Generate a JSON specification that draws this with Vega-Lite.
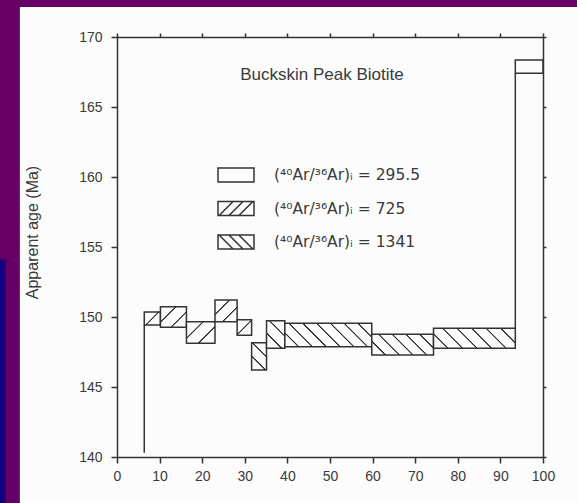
{
  "$schema": "https://vega.github.io/schema/vega-lite/v6.json",
  "width": 426,
  "height": 420,
  "autosize": {"type": "none"},
  "padding": {"left": 117, "top": 37, "right": 34, "bottom": 46},
  "background": "#660066",
  "config": {"view": {"stroke": null}, "font": "Liberation Sans"},
  "datasets": {
    "steps": [
      {"step": 1, "start": 6.4, "end": 10.2, "low": 149.43, "high": 150.36, "ratio": "(⁴⁰Ar/³⁶Ar)ᵢ = 725"},
      {"step": 2, "start": 10.2, "end": 16.3, "low": 149.26, "high": 150.74, "ratio": "(⁴⁰Ar/³⁶Ar)ᵢ = 725"},
      {"step": 3, "start": 16.3, "end": 23.0, "low": 148.12, "high": 149.66, "ratio": "(⁴⁰Ar/³⁶Ar)ᵢ = 725"},
      {"step": 4, "start": 23.0, "end": 28.2, "low": 149.66, "high": 151.21, "ratio": "(⁴⁰Ar/³⁶Ar)ᵢ = 725"},
      {"step": 5, "start": 28.2, "end": 31.6, "low": 148.7, "high": 149.8, "ratio": "(⁴⁰Ar/³⁶Ar)ᵢ = 725"},
      {"step": 6, "start": 31.6, "end": 35.1, "low": 146.21, "high": 148.16, "ratio": "(⁴⁰Ar/³⁶Ar)ᵢ = 1341"},
      {"step": 7, "start": 35.1, "end": 39.4, "low": 147.76, "high": 149.73, "ratio": "(⁴⁰Ar/³⁶Ar)ᵢ = 1341"},
      {"step": 8, "start": 39.4, "end": 59.8, "low": 147.88, "high": 149.55, "ratio": "(⁴⁰Ar/³⁶Ar)ᵢ = 1341"},
      {"step": 9, "start": 59.8, "end": 74.3, "low": 147.29, "high": 148.76, "ratio": "(⁴⁰Ar/³⁶Ar)ᵢ = 1341"},
      {"step": 10, "start": 74.3, "end": 93.5, "low": 147.76, "high": 149.19, "ratio": "(⁴⁰Ar/³⁶Ar)ᵢ = 1341"},
      {"step": 11, "start": 93.5, "end": 100, "low": 167.41, "high": 168.36, "ratio": "(⁴⁰Ar/³⁶Ar)ᵢ = 295.5"}
    ],
    "joins": [
      {"x": 6.4, "from": 140.3, "to": 149.43},
      {"x": 93.5, "from": 149.19, "to": 167.41}
    ]
  },
  "layer": [
    {
      "data": {"values": [{}]},
      "mark": {"type": "rect", "fill": "#fcfcfc", "clip": false},
      "encoding": {
        "x": {"datum": -22.8, "type": "quantitative", "scale": {"domain": [0, 100], "nice": false, "zero": false}, "axis": null},
        "x2": {"datum": 112},
        "y": {"datum": 172.14, "type": "quantitative", "scale": {"domain": [140, 170], "nice": false, "zero": false}, "axis": null},
        "y2": {"datum": 130}
      }
    },
    {
      "data": {"values": [{}]},
      "mark": {"type": "rect", "fill": "#14007f", "clip": false},
      "encoding": {
        "x": {"datum": -27.5, "type": "quantitative", "scale": {"domain": [0, 100], "nice": false, "zero": false}, "axis": null},
        "x2": {"datum": -26.1},
        "y": {"datum": 154.1, "type": "quantitative", "scale": {"domain": [140, 170], "nice": false, "zero": false}, "axis": null},
        "y2": {"datum": 130}
      }
    },
    {
      "data": {"name": "steps"},
      "encoding": {
        "x": {"field": "start", "type": "quantitative", "scale": {"domain": [0, 100], "nice": false, "zero": false},
          "axis": {"orient": "bottom", "values": [0, 10, 20, 30, 40, 50, 60, 70, 80, 90, 100], "title": null, "grid": false,
            "tickSize": 6, "labelPadding": 6, "labelFlush": false, "labelFontSize": 14, "labelFont": "Liberation Sans", "labelColor": "#3a3a3a",
            "domainColor": "#333", "domainWidth": 1.5, "tickColor": "#333", "tickWidth": 1.5, "zindex": 1}},
        "x2": {"field": "end"},
        "y": {"field": "high", "type": "quantitative", "scale": {"domain": [140, 170], "nice": false, "zero": false},
          "axis": {"orient": "left", "values": [140, 145, 150, 155, 160, 165, 170], "title": "Apparent age (Ma)", "grid": false,
            "tickSize": 6, "labelPadding": 9, "labelFlush": false, "labelFontSize": 14, "labelFont": "Liberation Sans", "labelColor": "#3a3a3a",
            "titleFont": "Liberation Sans", "titleFontSize": 16, "titleFontWeight": "normal", "titleColor": "#3a3a3a",
            "titlePadding": 38, "titleY": 195,
            "domainColor": "#333", "domainWidth": 1.5, "tickColor": "#333", "tickWidth": 1.5, "zindex": 1}},
        "y2": {"field": "low"}
      },
      "layer": [
        {"transform": [{"filter": "datum.step == 1"}],
          "mark": {"type": "rect", "stroke": "#333", "strokeWidth": 1.5, "fill": {"gradient": "linear", "x1": 0, "y1": 0, "x2": 1.0964, "y2": 0.8798,
            "stops": [{"offset": 0, "color": "#fcfcfc"}, {"offset": 0.459, "color": "#fcfcfc"}, {"offset": 0.484, "color": "#2e2e2e"}, {"offset": 0.516, "color": "#2e2e2e"}, {"offset": 0.541, "color": "#fcfcfc"}, {"offset": 1, "color": "#fcfcfc"}]}}},
        {"transform": [{"filter": "datum.step == 2"}],
          "mark": {"type": "rect", "stroke": "#333", "strokeWidth": 1.5, "fill": {"gradient": "linear", "x1": 0, "y1": 0, "x2": 1.0993, "y2": 0.8752,
            "stops": [{"offset": 0, "color": "#fcfcfc"}, {"offset": 0.3076, "color": "#fcfcfc"}, {"offset": 0.323, "color": "#2e2e2e"}, {"offset": 0.3436, "color": "#2e2e2e"}, {"offset": 0.359, "color": "#fcfcfc"},
              {"offset": 0.641, "color": "#fcfcfc"}, {"offset": 0.6564, "color": "#2e2e2e"}, {"offset": 0.677, "color": "#2e2e2e"}, {"offset": 0.6924, "color": "#fcfcfc"}, {"offset": 1, "color": "#fcfcfc"}]}}},
        {"transform": [{"filter": "datum.step == 3"}],
          "mark": {"type": "rect", "stroke": "#333", "strokeWidth": 1.5, "fill": {"gradient": "linear", "x1": 0, "y1": 0, "x2": 1.1165, "y2": 0.8462,
            "stops": [{"offset": 0, "color": "#fcfcfc"}, {"offset": 0.3093, "color": "#fcfcfc"}, {"offset": 0.3237, "color": "#2e2e2e"}, {"offset": 0.3429, "color": "#2e2e2e"}, {"offset": 0.3573, "color": "#fcfcfc"},
              {"offset": 0.6427, "color": "#fcfcfc"}, {"offset": 0.6571, "color": "#2e2e2e"}, {"offset": 0.6763, "color": "#2e2e2e"}, {"offset": 0.6907, "color": "#fcfcfc"}, {"offset": 1, "color": "#fcfcfc"}]}}},
        {"transform": [{"filter": "datum.step == 4"}],
          "mark": {"type": "rect", "stroke": "#333", "strokeWidth": 1.5, "fill": {"gradient": "linear", "x1": 0, "y1": 0, "x2": 1.0113, "y2": 0.9885,
            "stops": [{"offset": 0, "color": "#fcfcfc"}, {"offset": 0.306, "color": "#fcfcfc"}, {"offset": 0.3224, "color": "#2e2e2e"}, {"offset": 0.3442, "color": "#2e2e2e"}, {"offset": 0.3606, "color": "#fcfcfc"},
              {"offset": 0.6394, "color": "#fcfcfc"}, {"offset": 0.6558, "color": "#2e2e2e"}, {"offset": 0.6776, "color": "#2e2e2e"}, {"offset": 0.694, "color": "#fcfcfc"}, {"offset": 1, "color": "#fcfcfc"}]}}},
        {"transform": [{"filter": "datum.step == 5"}],
          "mark": {"type": "rect", "stroke": "#333", "strokeWidth": 1.5, "fill": {"gradient": "linear", "x1": 0, "y1": 0, "x2": 0.969, "y2": 1.0292,
            "stops": [{"offset": 0, "color": "#fcfcfc"}, {"offset": 0.4599, "color": "#fcfcfc"}, {"offset": 0.484, "color": "#2e2e2e"}, {"offset": 0.516, "color": "#2e2e2e"}, {"offset": 0.5401, "color": "#fcfcfc"}, {"offset": 1, "color": "#fcfcfc"}]}}},
        {"transform": [{"filter": "datum.step == 6"}],
          "mark": {"type": "rect", "stroke": "#333", "strokeWidth": 1.5, "fill": {"gradient": "linear", "x1": 0, "y1": 1, "x2": 0.65, "y2": -0.191,
            "stops": [{"offset": 0, "color": "#fcfcfc"}, {"offset": 0.3049, "color": "#fcfcfc"}, {"offset": 0.3219, "color": "#2e2e2e"}, {"offset": 0.3447, "color": "#2e2e2e"}, {"offset": 0.3617, "color": "#fcfcfc"},
              {"offset": 0.6383, "color": "#fcfcfc"}, {"offset": 0.6553, "color": "#2e2e2e"}, {"offset": 0.6781, "color": "#2e2e2e"}, {"offset": 0.6951, "color": "#fcfcfc"}, {"offset": 1, "color": "#fcfcfc"}]}}},
        {"transform": [{"filter": "datum.step == 7"}],
          "mark": {"type": "rect", "stroke": "#333", "strokeWidth": 1.5, "fill": {"gradient": "linear", "x1": 0, "y1": 1, "x2": 0.7659, "y2": -0.1551,
            "stops": [{"offset": 0, "color": "#fcfcfc"}, {"offset": 0.3072, "color": "#fcfcfc"}, {"offset": 0.3228, "color": "#2e2e2e"}, {"offset": 0.3438, "color": "#2e2e2e"}, {"offset": 0.3594, "color": "#fcfcfc"},
              {"offset": 0.6406, "color": "#fcfcfc"}, {"offset": 0.6562, "color": "#2e2e2e"}, {"offset": 0.6772, "color": "#2e2e2e"}, {"offset": 0.6928, "color": "#fcfcfc"}, {"offset": 1, "color": "#fcfcfc"}]}}},
        {"transform": [{"filter": "datum.step == 8"}],
          "mark": {"type": "rect", "stroke": "#333", "strokeWidth": 1.5, "fill": {"gradient": "linear", "x1": 0, "y1": 1, "x2": 1.1835, "y2": 0.6813,
            "stops": [{"offset": 0, "color": "#fcfcfc"},
              {"offset": 0.1141, "color": "#fcfcfc"}, {"offset": 0.1206, "color": "#2e2e2e"}, {"offset": 0.1294, "color": "#2e2e2e"}, {"offset": 0.1359, "color": "#fcfcfc"},
              {"offset": 0.2391, "color": "#fcfcfc"}, {"offset": 0.2456, "color": "#2e2e2e"}, {"offset": 0.2544, "color": "#2e2e2e"}, {"offset": 0.2609, "color": "#fcfcfc"},
              {"offset": 0.3641, "color": "#fcfcfc"}, {"offset": 0.3706, "color": "#2e2e2e"}, {"offset": 0.3794, "color": "#2e2e2e"}, {"offset": 0.3859, "color": "#fcfcfc"},
              {"offset": 0.4891, "color": "#fcfcfc"}, {"offset": 0.4956, "color": "#2e2e2e"}, {"offset": 0.5044, "color": "#2e2e2e"}, {"offset": 0.5109, "color": "#fcfcfc"},
              {"offset": 0.6141, "color": "#fcfcfc"}, {"offset": 0.6206, "color": "#2e2e2e"}, {"offset": 0.6294, "color": "#2e2e2e"}, {"offset": 0.6359, "color": "#fcfcfc"},
              {"offset": 0.7391, "color": "#fcfcfc"}, {"offset": 0.7456, "color": "#2e2e2e"}, {"offset": 0.7544, "color": "#2e2e2e"}, {"offset": 0.7609, "color": "#fcfcfc"},
              {"offset": 0.8641, "color": "#fcfcfc"}, {"offset": 0.8706, "color": "#2e2e2e"}, {"offset": 0.8794, "color": "#2e2e2e"}, {"offset": 0.8859, "color": "#fcfcfc"},
              {"offset": 1, "color": "#fcfcfc"}]}}},
        {"transform": [{"filter": "datum.step == 9"}],
          "mark": {"type": "rect", "stroke": "#333", "strokeWidth": 1.5, "fill": {"gradient": "linear", "x1": 0, "y1": 1, "x2": 1.2, "y2": 0.6,
            "stops": [{"offset": 0, "color": "#fcfcfc"},
              {"offset": 0.1521, "color": "#fcfcfc"}, {"offset": 0.1609, "color": "#2e2e2e"}, {"offset": 0.1725, "color": "#2e2e2e"}, {"offset": 0.1813, "color": "#fcfcfc"},
              {"offset": 0.3187, "color": "#fcfcfc"}, {"offset": 0.3275, "color": "#2e2e2e"}, {"offset": 0.3391, "color": "#2e2e2e"}, {"offset": 0.3479, "color": "#fcfcfc"},
              {"offset": 0.4854, "color": "#fcfcfc"}, {"offset": 0.4942, "color": "#2e2e2e"}, {"offset": 0.5058, "color": "#2e2e2e"}, {"offset": 0.5146, "color": "#fcfcfc"},
              {"offset": 0.6521, "color": "#fcfcfc"}, {"offset": 0.6609, "color": "#2e2e2e"}, {"offset": 0.6725, "color": "#2e2e2e"}, {"offset": 0.6813, "color": "#fcfcfc"},
              {"offset": 0.8187, "color": "#fcfcfc"}, {"offset": 0.8275, "color": "#2e2e2e"}, {"offset": 0.8391, "color": "#2e2e2e"}, {"offset": 0.8479, "color": "#fcfcfc"},
              {"offset": 1, "color": "#fcfcfc"}]}}},
        {"transform": [{"filter": "datum.step == 10"}],
          "mark": {"type": "rect", "stroke": "#333", "strokeWidth": 1.5, "fill": {"gradient": "linear", "x1": 0, "y1": 1, "x2": 1.1743, "y2": 0.7129,
            "stops": [{"offset": 0, "color": "#fcfcfc"},
              {"offset": 0.1311, "color": "#fcfcfc"}, {"offset": 0.1382, "color": "#2e2e2e"}, {"offset": 0.1476, "color": "#2e2e2e"}, {"offset": 0.1547, "color": "#fcfcfc"},
              {"offset": 0.2739, "color": "#fcfcfc"}, {"offset": 0.281, "color": "#2e2e2e"}, {"offset": 0.2904, "color": "#2e2e2e"}, {"offset": 0.2975, "color": "#fcfcfc"},
              {"offset": 0.4168, "color": "#fcfcfc"}, {"offset": 0.4239, "color": "#2e2e2e"}, {"offset": 0.4333, "color": "#2e2e2e"}, {"offset": 0.4404, "color": "#fcfcfc"},
              {"offset": 0.5596, "color": "#fcfcfc"}, {"offset": 0.5667, "color": "#2e2e2e"}, {"offset": 0.5761, "color": "#2e2e2e"}, {"offset": 0.5832, "color": "#fcfcfc"},
              {"offset": 0.7025, "color": "#fcfcfc"}, {"offset": 0.7096, "color": "#2e2e2e"}, {"offset": 0.719, "color": "#2e2e2e"}, {"offset": 0.7261, "color": "#fcfcfc"},
              {"offset": 0.8453, "color": "#fcfcfc"}, {"offset": 0.8524, "color": "#2e2e2e"}, {"offset": 0.8618, "color": "#2e2e2e"}, {"offset": 0.8689, "color": "#fcfcfc"},
              {"offset": 1, "color": "#fcfcfc"}]}}},
        {"transform": [{"filter": "datum.step == 11"}],
          "mark": {"type": "rect", "stroke": "#333", "strokeWidth": 1.5, "fill": "#fcfcfc"}}
      ]
    },
    {
      "data": {"name": "joins"},
      "mark": {"type": "rule", "stroke": "#333", "strokeWidth": 1.5},
      "encoding": {
        "x": {"field": "x", "type": "quantitative", "scale": {"domain": [0, 100], "nice": false, "zero": false},
          "axis": {"orient": "top", "values": [0, 10, 20, 30, 40, 50, 60, 70, 80, 90, 100], "labels": false, "title": null, "grid": false,
            "tickSize": 4, "domainColor": "#333", "domainWidth": 1.5, "tickColor": "#333", "tickWidth": 1.5, "zindex": 1}},
        "y": {"field": "from", "type": "quantitative", "scale": {"domain": [140, 170], "nice": false, "zero": false},
          "axis": {"orient": "right", "values": [140, 145, 150, 155, 160, 165, 170], "labels": false, "title": null, "grid": false,
            "tickSize": 3, "domainColor": "#333", "domainWidth": 1.5, "tickColor": "#333", "tickWidth": 1.5, "zindex": 1}},
        "y2": {"field": "to"}
      }
    },
    {
      "data": {"name": "steps"},
      "mark": {"type": "point", "filled": false, "color": "#333", "strokeWidth": 1.5, "size": 1296, "opacity": 1, "clip": true},
      "encoding": {
        "x": {"datum": -40, "type": "quantitative", "scale": {"domain": [0, 100], "nice": false, "zero": false}, "axis": null},
        "y": {"datum": 120, "type": "quantitative", "scale": {"domain": [140, 170], "nice": false, "zero": false}, "axis": null},
        "shape": {"field": "ratio", "type": "nominal",
          "scale": {"domain": ["(⁴⁰Ar/³⁶Ar)ᵢ = 295.5", "(⁴⁰Ar/³⁶Ar)ᵢ = 725", "(⁴⁰Ar/³⁶Ar)ᵢ = 1341"],
            "range": ["M-1,-0.39H1V0.39H-1Z",
              "M-1,-0.39H1V0.39H-1Z M-0.94,0.39L-0.16,-0.39 M-0.39,0.39L0.39,-0.39 M0.16,0.39L0.94,-0.39",
              "M-1,-0.39H1V0.39H-1Z M-0.94,-0.39L-0.16,0.39 M-0.39,-0.39L0.39,0.39 M0.16,-0.39L0.94,0.39"]},
          "legend": {"title": null, "orient": "none", "legendX": 100, "legendY": 119, "padding": 0,
            "symbolSize": 1296, "symbolStrokeWidth": 1.5, "symbolStrokeColor": "#333", "symbolOpacity": 1,
            "labelFont": "DejaVu Sans", "labelFontSize": 15.5, "labelColor": "#3a3a3a", "labelOffset": 19, "labelLimit": 300,
            "rowPadding": 3.5, "zindex": 1}}
      }
    },
    {
      "data": {"values": [{}]},
      "mark": {"type": "text", "text": "Buckskin Peak Biotite", "font": "Liberation Sans", "fontSize": 17, "color": "#3a3a3a", "align": "center", "baseline": "middle"},
      "encoding": {
        "x": {"datum": 48.1, "type": "quantitative", "scale": {"domain": [0, 100], "nice": false, "zero": false}, "axis": null},
        "y": {"datum": 167.29, "type": "quantitative", "scale": {"domain": [140, 170], "nice": false, "zero": false}, "axis": null}
      }
    }
  ],
  "resolve": {"axis": {"x": "independent", "y": "independent"}}
}
